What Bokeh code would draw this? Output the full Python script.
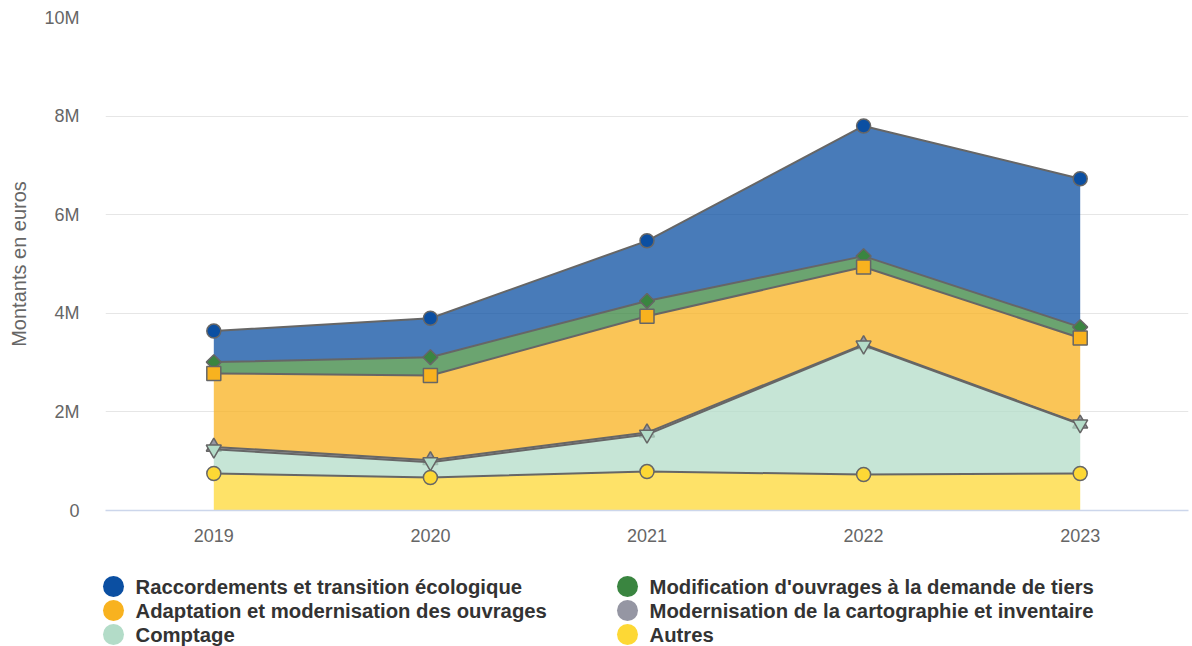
import numpy as np
from bokeh.plotting import figure
from bokeh.layouts import column
from bokeh.models import Range1d, FixedTicker, ColumnDataSource
from bokeh.core.properties import value
from bokeh.embed import file_html
from bokeh.resources import INLINE

# Yearly amounts per investment category, in millions of euros
years = ["2019", "2020", "2021", "2022", "2023"]
raccordements = [0.63, 0.79, 1.22, 2.64, 3.01]
modification = [0.23, 0.37, 0.31, 0.22, 0.22]
adaptation = [1.49, 1.72, 2.36, 1.57, 1.74]
modernisation = [0.05, 0.04, 0.04, 0.02, 0.01]
comptage = [0.49, 0.31, 0.75, 2.62, 1.00]
autres = [0.75, 0.67, 0.79, 0.73, 0.75]

series_names = [
    "Raccordements et transition écologique",
    "Modification d'ouvrages à la demande de tiers",
    "Adaptation et modernisation des ouvrages",
    "Modernisation de la cartographie et inventaire",
    "Comptage",
    "Autres",
]
series_values = [raccordements, modification, adaptation, modernisation, comptage, autres]
series_colors = ["#0b4fa2", "#3a8540", "#f8b21f", "#9596a3", "#b3dcc8", "#fdd835"]
series_markers = ["circle", "diamond", "square", "triangle", "inverted_triangle", "circle"]
y_ticks = [0, 2, 4, 6, 8, 10]

FONT = "Liberation Sans"
LEFT, RIGHT = 105, 4
W = 1192

p = figure(width=W, height=560, output_backend="svg", toolbar_location=None,
           x_range=Range1d(-0.5, 4.5), y_range=Range1d(0, 10e6),
           min_border_left=LEFT, min_border_right=RIGHT, min_border_top=17,
           min_border_bottom=50)
p.outline_line_color = None
p.xgrid.visible = False
p.ygrid.grid_line_color = "#e6e6e6"
p.ygrid.grid_line_width = 1

x = np.arange(len(years))

# Stack from the bottom series (last) upwards to the first one on top
vals = [np.array(v) * 1e6 for v in series_values]
tops = [None] * len(vals)
bottoms = [None] * len(vals)
running = np.zeros(len(years))
for i in range(len(vals) - 1, -1, -1):
    bottoms[i] = running.copy()
    running = running + vals[i]
    tops[i] = running.copy()

# Marker style per symbol: (bokeh marker, size, rotation)
marker_style = {
    "circle": ("circle", 14, 0.0),
    "diamond": ("square", 10.5, np.pi / 4),
    "square": ("square", 14, 0.0),
    "triangle": ("triangle", 15, 0.0),
    "inverted_triangle": ("inverted_triangle", 15, 0.0),
}

for i in range(len(vals)):
    src = ColumnDataSource(dict(x=x, lo=bottoms[i], hi=tops[i]))
    p.varea(x="x", y1="lo", y2="hi", source=src, fill_color=series_colors[i], fill_alpha=0.75)
    p.line(x="x", y="hi", source=src, line_color="#666666", line_width=2)
    mk, size, ang = marker_style[series_markers[i]]
    p.scatter(x="x", y="hi", source=src, marker=mk, size=size, angle=ang,
              fill_color=series_colors[i], line_color="#666666", line_width=1.5)

# X axis
xa = p.xaxis[0]
xa.ticker = FixedTicker(ticks=list(x))
xa.major_label_overrides = {int(i): y for i, y in zip(x, years)}
xa.axis_line_color = "#ccd6eb"
xa.axis_line_width = 1.5
xa.major_tick_line_color = None
xa.minor_tick_line_color = None
xa.major_tick_out = 0
xa.major_tick_in = 0
xa.major_label_standoff = 18
xa.major_label_text_font = FONT
xa.major_label_text_font_size = "18px"
xa.major_label_text_color = "#666666"

# Y axis
ya = p.yaxis[0]
ya.ticker = FixedTicker(ticks=[t * 1e6 for t in y_ticks])
ya.major_label_overrides = {t * 1000000: ("0" if t == 0 else f"{t}M") for t in y_ticks}
ya.axis_line_color = None
ya.major_tick_line_color = None
ya.minor_tick_line_color = None
ya.major_tick_out = 0
ya.major_tick_in = 0
ya.major_label_standoff = 26
ya.major_label_text_font = FONT
ya.major_label_text_font_size = "18px"
ya.major_label_text_color = "#666666"
ya.axis_label = "Montants en euros"
ya.axis_label_text_font = FONT
ya.axis_label_text_font_size = "20px"
ya.axis_label_text_font_style = "normal"
ya.axis_label_text_color = "#666666"
ya.axis_label_standoff = 11

# Legend panel below the chart, two columns filled row by row.
# Its frame spans the whole panel (no alignment with the chart frame).
lg = figure(width=W, height=86, output_backend="svg", toolbar_location=None,
            x_range=Range1d(0, W), y_range=Range1d(86, 0),
            x_axis_location=None, y_axis_location=None, min_border=0)
lg.frame_align = False
lg.outline_line_color = None
lg.xgrid.visible = False
lg.ygrid.visible = False

col_x = [113, 627]
row_y = [26, 50, 74]
lx = [col_x[k % 2] for k in range(len(series_names))]
ly = [row_y[k // 2] for k in range(len(series_names))]
lsrc = ColumnDataSource(dict(x=lx, y=ly, tx=[v + 22 for v in lx],
                             name=series_names, color=series_colors))
lg.scatter(x="x", y="y", source=lsrc, marker="circle", size=21,
           fill_color="color", line_color=None)
lg.text(x="tx", y="y", text="name", source=lsrc, text_font=value(FONT),
        text_font_style="bold", text_font_size="20.3px", text_color="#333333",
        text_baseline="middle", text_align="left")

layout = column(p, lg, spacing=0)
open("out.html", "w").write(file_html(layout, INLINE))
